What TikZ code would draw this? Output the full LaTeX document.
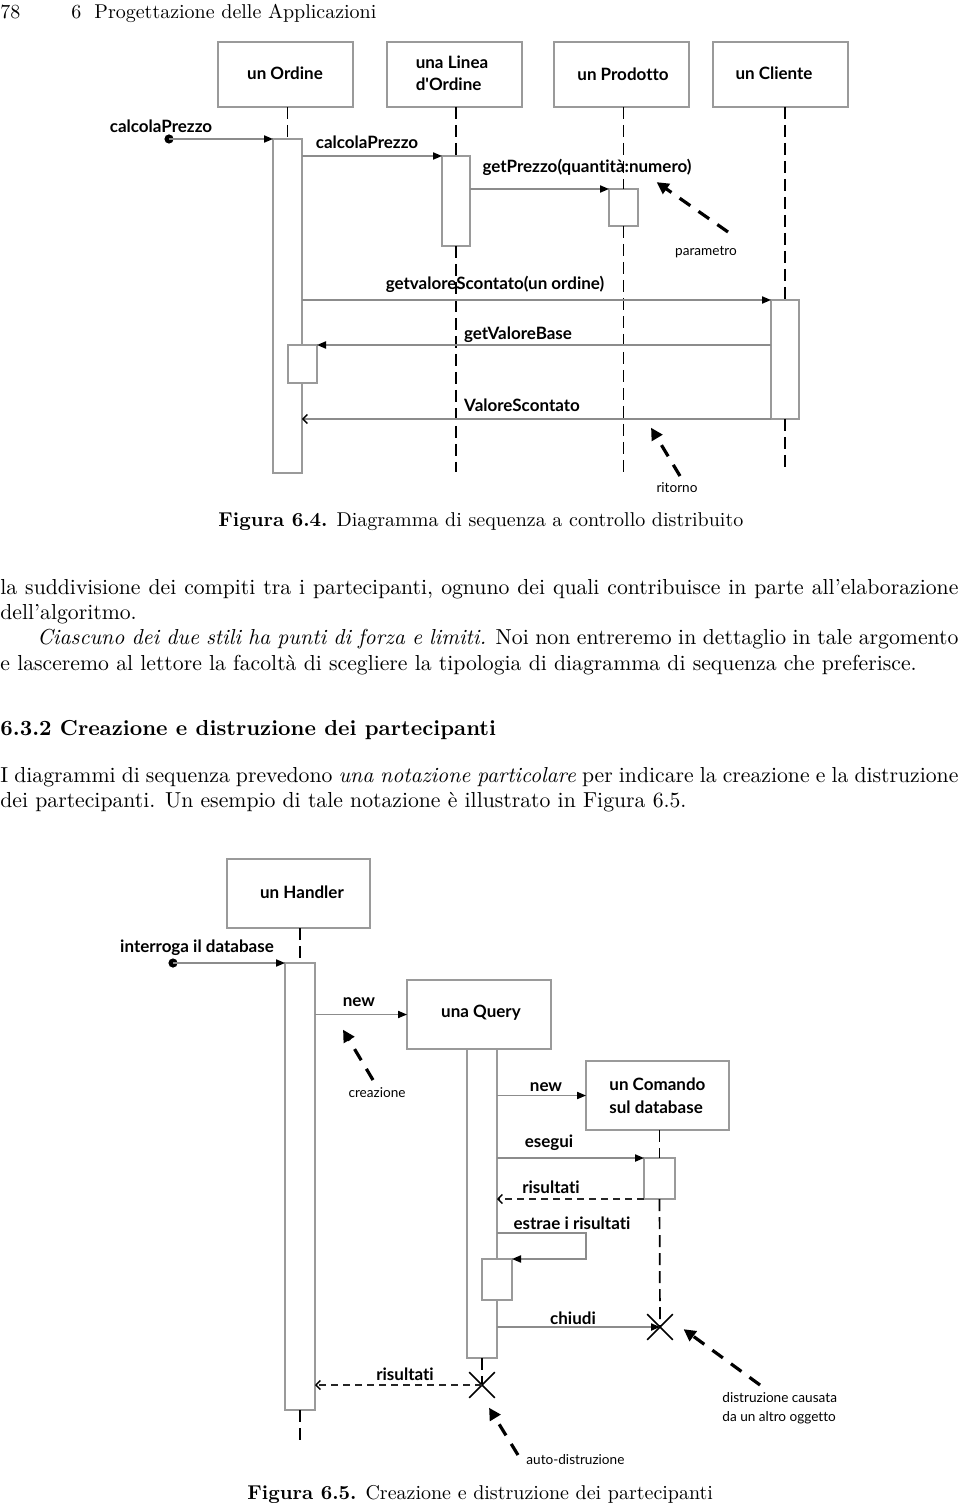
\documentclass[tikz,border=0pt]{standalone}
\usepackage{fontspec}
\newfontfamily\dgf[Ligatures={NoCommon}]{Lato}
\usetikzlibrary{arrows.meta,fit,shapes.misc}
\definecolor{boxgray}{HTML}{9A9A9A}
\definecolor{linegray}{HTML}{8C8C8C}
\tikzset{
  obj/.style={draw=boxgray, line width=0.8pt, inner sep=0pt, outer sep=0pt, rectangle},
  life/.style={draw=black, line width=0.85pt, dash pattern=on 6pt off 3pt},
  msg/.style={draw=linegray, line width=0.7pt, -{Triangle[length=4.5pt,width=3.6pt,color=black]}},
  ret/.style={draw=linegray, line width=0.7pt, -{Straight Barb[length=2.2pt,width=4.6pt,color=black]}},
  retd/.style={draw=black!85, line width=0.7pt, dash pattern=on 3.6pt off 2.4pt, -{Straight Barb[length=2.2pt,width=4.6pt,color=black]}},
  note/.style={draw=black, line width=1.6pt, dash pattern=on 6.5pt off 5pt, shorten >=1pt, -{Triangle[length=6pt,width=6pt]}},
  lbl/.style={font=\dgf\bfseries\fontsize{8.5}{11}\selectfont, inner sep=0pt},
  nlbl/.style={font=\dgf\fontsize{6.8}{9.5}\selectfont, inner sep=0pt},
  tl/.style={anchor=base west, inner sep=0pt, font=\fontsize{10}{12}\selectfont},
  bt/.style={anchor=base west, inner sep=0pt, font=\fontsize{10.85}{12.5}\selectfont},
  dot/.style={circle, fill=black, inner sep=0pt, minimum size=4.6pt},
  xmark/.style={cross out, draw=black, line width=0.8pt, minimum size=12pt, inner sep=0pt},
}
\begin{document}
\begin{tikzpicture}[x=0.5pt,y=-0.5pt]
\useasboundingbox (0,0) rectangle (960,1507);
% page header
\node[tl] (pg) at (0,19) {78};
\node[tl] (hd) at (71,19) {6\hspace{6.5pt}Progettazione delle Applicazioni};

% ---------- Figure 6.4 ----------
\node[obj, fit={(218,42) (353,107)}] (ordB) {};
\node[obj, fit={(387,42) (522,107)}] (linB) {};
\node[obj, fit={(554,42) (689,107)}] (proB) {};
\node[obj, fit={(713,42) (848,107)}] (cliB) {};
\node[lbl] (ordT) at (285,73) {un Ordine};
\node[lbl, align=left] (linT) at (452,73) {una Linea\\d'Ordine};
\node[lbl] (proT) at (623,74) {un Prodotto};
\node[lbl] (cliT) at (774,73) {un Cliente};

\node[obj, fit={(273,139) (302,473)}] (ordA) {};
\node[obj, fit={(288,345) (317,383)}, fill=white] (ordA2) {};
\node[obj, fit={(442,156) (470,246)}] (linA) {};
\node[obj, fit={(609,189) (638,226)}] (proA) {};
\node[obj, fit={(771,300) (799,419)}] (cliA) {};

\coordinate (tend) at (0,472);
\coordinate (tend2) at (0,470);
\draw[life] (ordA.north |- ordB.south) -- (ordA.north);
\draw[life] (linA.north |- linB.south) -- (linA.north);
\draw[life] (linA.south) -- (linA.south |- tend);
\draw[life] (proA.north |- proB.south) -- (proA.north);
\draw[life] (proA.south) -- (proA.south |- tend);
\draw[life] (cliA.north |- cliB.south) -- (cliA.north);
\draw[life] (cliA.south) -- (cliA.south |- tend2);

\node[dot] (d1) at (169,139) {};
\draw[msg] (d1.center) -- (ordA.north west);
\draw[msg] (ordA.east |- linA.north) -- (linA.north west);
\draw[msg] (linA.east |- proA.north) -- (proA.north west);
\draw[msg] (ordA.east |- cliA.north) -- (cliA.north west);
\draw[msg] (cliA.west |- ordA2.north) -- (ordA2.north east);
\draw[ret] (cliA.south west) -- (ordA.east |- cliA.south);

\node[lbl] (m1) at (161,126) {calcolaPrezzo};
\node[lbl] (m2) at (367,142) {calcolaPrezzo};
\node[lbl] (m3) at (587,167) {getPrezzo(quantità:numero)};
\node[lbl] (m4) at (495,284) {getvaloreScontato(un ordine)};
\node[lbl] (m5) at (518,335) {getValoreBase};
\node[lbl] (m6) at (522,405) {ValoreScontato};

\node[nlbl] (parL) at (706,252) {parametro};
\node[nlbl] (ritL) at (677,488) {ritorno};
\coordinate (parS) at (728,232);
\coordinate (parE) at (655,181);
\coordinate (ritS) at (680,476);
\coordinate (ritE) at (650,426);
\draw[note] (parS) -- (parE);
\draw[note] (ritS) -- (ritE);

\node[tl] (cap1) at (218,526) {\textbf{Figura 6.4.} Diagramma di sequenza a controllo distribuito};

% ---------- body text ----------
\node[bt] (t1) at (0,594) {\makebox[479pt][s]{la suddivisione dei compiti tra i partecipanti, ognuno dei quali contribuisce in parte all'elaborazione}};
\node[bt] (t2) at (0,619) {dell'algoritmo.};
\node[bt] (t3) at (37,644) {\makebox[460.5pt][s]{\textit{Ciascuno dei due stili ha punti di forza e limiti.} Noi non entreremo in dettaglio in tale argomento}};
\node[bt] (t4) at (0,670) {e lasceremo al lettore la facoltà di scegliere la tipologia di diagramma di sequenza che preferisce.};
\node[bt] (hh) at (0,735) {\textbf{6.3.2 Creazione e distruzione dei partecipanti}};
\node[bt] (t5) at (0,782) {\makebox[479pt][s]{I diagrammi di sequenza prevedono \textit{una notazione particolare} per indicare la creazione e la distruzione}};
\node[bt] (t6) at (0,807) {dei partecipanti. Un esempio di tale notazione è illustrato in Figura 6.5.};

% ---------- Figure 6.5 ----------
\node[obj, fit={(227,859) (370,928)}] (handB) {};
\node[lbl] (handT) at (302,892) {un Handler};
\node[obj, fit={(285,963) (315,1410)}] (handA) {};
\coordinate (hend) at (0,1444);
\draw[life] (handA.north |- handB.south) -- (handA.north);
\draw[life] (handA.south) -- (handA.south |- hend);

\node[dot] (d2) at (173,963) {};
\draw[msg] (d2.center) -- (handA.north west);
\node[lbl] (n1) at (197,948) {interroga il database};

\node[obj, fit={(407,980) (551,1049)}] (queryB) {};
\node[lbl] (queryT) at (481,1013) {una Query};
\draw[msg] (handA.east |- queryB.west) -- (queryB.west);
\node[lbl] (n2) at (359,1002) {new};

\node[obj, fit={(467,1049) (497,1358)}] (queryA) {};
\node[obj, fit={(482,1259) (512,1300)}, fill=white] (queryA2) {};

\node[obj, fit={(586,1061) (729,1130)}] (comB) {};
\node[lbl, align=left, anchor=west, font=\dgf\bfseries\fontsize{8.5}{11.5}\selectfont] (comT) at (609,1096) {un Comando\\sul database};
\draw[msg] (queryA.east |- comB.west) -- (comB.west);
\node[lbl] (n3) at (546,1087) {new};

\node[obj, fit={(644,1158) (675,1199)}] (comA) {};
\draw[life] (comA.north |- comB.south) -- (comA.north);

\node[xmark] (xc) at (660,1327) {};
\node[xmark] (xq) at (482,1385) {};
\draw[life] (comA.south) -- (xc.center);
\draw[life] (queryA.south) -- (xq.center);

\draw[msg] (queryA.east |- comA.north) -- (comA.north west);
\node[lbl] (n4) at (549,1143) {esegui};
\draw[retd] (comA.south west) -- (queryA.east |- comA.south);
\node[lbl] (n5) at (551,1187) {risultati};

\coordinate (est) at (586,1233);
\draw[msg] (queryA.east |- est) -- (est) -- (est |- queryA2.north) -- (queryA2.north east);
\node[lbl] (n6) at (572,1223) {estrae i risultati};

\draw[msg] (queryA.east |- xc) -- (xc.center);
\node[lbl] (n7) at (573,1318) {chiudi};

\draw[retd] (xq.center) -- (handA.east |- xq);
\node[lbl] (n8) at (405,1374) {risultati};

\node[nlbl] (creL) at (377,1093) {creazione};
\node[nlbl, align=left, anchor=west] (disL) at (722,1408) {distruzione causata\\da un altro oggetto};
\node[nlbl, anchor=west] (autL) at (526,1460) {auto-distruzione};
\coordinate (creS) at (373,1080);
\coordinate (creE) at (342,1028);
\coordinate (disS) at (760,1385);
\coordinate (disE) at (682,1328);
\coordinate (autS) at (518,1455);
\coordinate (autE) at (488,1406);
\draw[note] (creS) -- (creE);
\draw[note] (disS) -- (disE);
\draw[note] (autS) -- (autE);

\node[tl] (cap2) at (247,1499) {\textbf{Figura 6.5.} Creazione e distruzione dei partecipanti};
\end{tikzpicture}
\end{document}
